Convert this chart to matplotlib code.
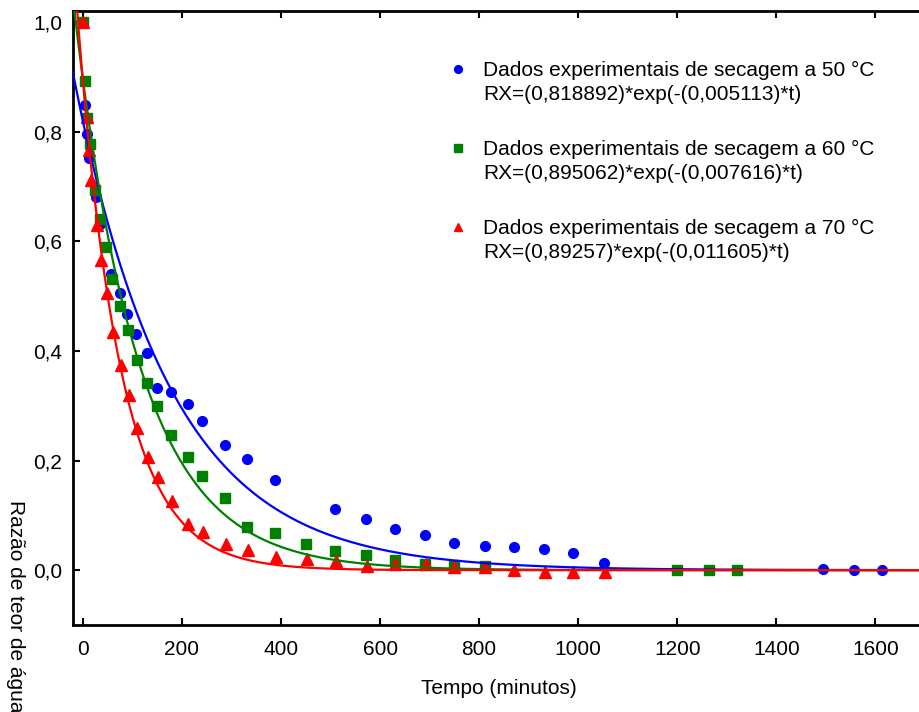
import numpy as np
import matplotlib
matplotlib.use("Agg")
import matplotlib.pyplot as plt
from matplotlib.lines import Line2D
from matplotlib.ticker import FuncFormatter

plt.rcParams['font.family'] = ['Liberation Sans', 'DejaVu Sans']

# --------- dados ---------
t50 = [0, 4, 8, 12, 26, 34, 57, 75, 90, 108, 129, 150, 178, 212, 240, 287, 331, 388,
       509, 572, 630, 691, 750, 812, 870, 931, 990, 1051, 1495, 1556, 1614]
rx50 = [1.0, 0.848, 0.795, 0.751, 0.68, 0.632, 0.54, 0.505, 0.467, 0.43, 0.396, 0.332,
        0.325, 0.303, 0.273, 0.228, 0.202, 0.164, 0.112, 0.093, 0.075, 0.064, 0.049,
        0.045, 0.042, 0.038, 0.031, 0.013, 0.002, 0.001, 0.0]

t60 = [0, 4, 8, 14, 24, 34, 46, 58, 75, 91, 109, 129, 150, 178, 212, 240, 287, 331, 388,
       450, 509, 572, 630, 691, 750, 812, 1200, 1263, 1321]
rx60 = [1.0, 0.893, 0.825, 0.777, 0.694, 0.64, 0.59, 0.532, 0.482, 0.438, 0.384, 0.341,
        0.299, 0.246, 0.206, 0.171, 0.131, 0.079, 0.067, 0.047, 0.035, 0.027, 0.019,
        0.012, 0.009, 0.008, 0.001, 0.001, 0.001]

t70 = [0, 8, 12, 16, 28, 36, 48, 61, 77, 93, 109, 131, 151, 180, 212, 242, 289, 333, 390,
       453, 511, 573, 630, 693, 750, 812, 871, 933, 990, 1053]
rx70 = [1.0, 0.826, 0.766, 0.711, 0.629, 0.565, 0.505, 0.434, 0.375, 0.319, 0.259, 0.206,
        0.17, 0.126, 0.084, 0.069, 0.047, 0.036, 0.024, 0.021, 0.017, 0.008, 0.012, 0.012,
        0.006, 0.006, 0.0, -0.003, -0.003, -0.003]

# modelo RX = a*exp(-k*t)
temps = [50, 60, 70]
a_fit = [0.818892, 0.895062, 0.89257]
k_fit = [0.005113, 0.007616, 0.011605]
a_txt = ["0,818892", "0,895062", "0,89257"]
k_txt = ["0,005113", "0,007616", "0,011605"]

cores = ["#0000ff", "#008000", "#ff0000"]
marcas = ["o", "s", "^"]
tam = [7.0, 7.0, 8.0]

fig = plt.figure(figsize=(9.2, 7.12), dpi=100)
ax = fig.add_axes([73/920, 1-625/712, 852/920, (625-11)/712])

tt = np.linspace(-20, 1700, 600)
dados = [(t50, rx50), (t60, rx60), (t70, rx70)]
for (t, rx), c, m, s in zip(dados, cores, marcas, tam):
    ax.plot(t, rx, ls="none", marker=m, ms=s, color=c, mec=c, zorder=3)
for a, k, c in zip(a_fit, k_fit, cores):
    ax.plot(tt, a*np.exp(-k*tt), color=c, lw=1.6, zorder=4)

ax.set_xlim(-20, 1700)
ax.set_ylim(-0.1, 1.02)
ax.set_xticks(range(0, 1601, 200))
ax.set_yticks([0.0, 0.2, 0.4, 0.6, 0.8, 1.0])
ax.yaxis.set_major_formatter(FuncFormatter(lambda v, p: f"{v:.1f}".replace(".", ",")))
ax.tick_params(direction="in", top=True, right=False, length=5, width=1.5,
               labelsize=15, colors="black")
ax.tick_params(axis="x", pad=11)
ax.tick_params(axis="y", pad=8)
for sp in ax.spines.values():
    sp.set_linewidth(2)

fig.text(499/920, 1-688/712, "Tempo (minutos)", ha="center", va="center", fontsize=15)
fig.text(15/920, 1-500/712, "Razão de teor de água", rotation=-90, ha="center",
         va="top", fontsize=15)

# legendas (uma por temperatura)
y_top = [61, 140, 219]
for i in range(3):
    hs = [Line2D([], [], ls="none", marker=marcas[i], color=cores[i], ms=tam[i]*0.8),
          Line2D([], [], ls="none")]
    labs = [f"Dados experimentais de secagem a {temps[i]} °C",
            f"RX=({a_txt[i]})*exp(-({k_txt[i]})*t)"]
    leg = ax.legend(hs, labs, loc="upper left", bbox_to_anchor=(448/920, 1-y_top[i]/712),
                    bbox_transform=fig.transFigure, frameon=False, fontsize=15,
                    handlelength=1.0, handletextpad=0.7, labelspacing=0.22, borderpad=0,
                    borderaxespad=0)
    if i < 2:
        ax.add_artist(leg)

fig.savefig("out.png", dpi=100)
